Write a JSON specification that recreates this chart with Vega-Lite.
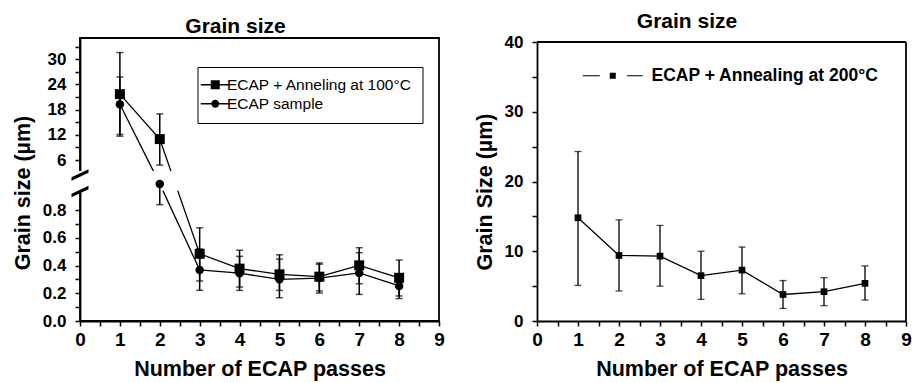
{
  "$schema": "https://vega.github.io/schema/vega-lite/v6.json",
  "padding": {"left": 11, "top": 11, "right": 5, "bottom": 2},
  "spacing": 98,
  "bounds": "flush",
  "resolve": {"scale": {"shape": "independent"}, "legend": {"shape": "independent"}},
  "config": {
    "font": "Liberation Sans",
    "view": {"stroke": "black", "strokeWidth": 1.8},
    "axis": {"grid": false, "domainColor": "black", "domainWidth": 1.8, "tickColor": "black", "tickWidth": 1.5,
      "labelColor": "black", "labelFont": "Liberation Sans", "labelFontWeight": "bold",
      "titleColor": "black", "titleFont": "Liberation Sans", "titleFontWeight": "bold", "titleFontSize": 21.5,
      "labelOverlap": false, "labelFlush": false},
    "axisX": {"labelPadding": 4, "titlePadding": 9},
    "axisY": {"labelPadding": 9, "titlePadding": 8},
    "title": {"font": "Liberation Sans", "fontSize": 21, "fontWeight": "bold", "color": "black"}
  },
  "datasets": {
    "left": [
      {"pass": 1, "series": "ECAP + Anneling at 100°C", "value": 21.7, "lo": 11.7, "hi": 31.6},
      {"pass": 2, "series": "ECAP + Anneling at 100°C", "value": 11.0, "lo": 4.8, "hi": 17.0},
      {"pass": 3, "series": "ECAP + Anneling at 100°C", "value": 0.485, "lo": 0.289, "hi": 0.673},
      {"pass": 4, "series": "ECAP + Anneling at 100°C", "value": 0.378, "lo": 0.245, "hi": 0.511},
      {"pass": 5, "series": "ECAP + Anneling at 100°C", "value": 0.337, "lo": 0.221, "hi": 0.478},
      {"pass": 6, "series": "ECAP + Anneling at 100°C", "value": 0.32, "lo": 0.217, "hi": 0.419},
      {"pass": 7, "series": "ECAP + Anneling at 100°C", "value": 0.402, "lo": 0.269, "hi": 0.529},
      {"pass": 8, "series": "ECAP + Anneling at 100°C", "value": 0.312, "lo": 0.181, "hi": 0.44},
      {"pass": 1, "series": "ECAP sample", "value": 19.3, "lo": 12.1, "hi": 25.8},
      {"pass": 2, "series": "ECAP sample", "value": 0.99, "lo": 0.84, "hi": 0.99},
      {"pass": 3, "series": "ECAP sample", "value": 0.369, "lo": 0.222, "hi": 0.52},
      {"pass": 4, "series": "ECAP sample", "value": 0.345, "lo": 0.221, "hi": 0.467},
      {"pass": 5, "series": "ECAP sample", "value": 0.301, "lo": 0.168, "hi": 0.447},
      {"pass": 6, "series": "ECAP sample", "value": 0.31, "lo": 0.202, "hi": 0.41},
      {"pass": 7, "series": "ECAP sample", "value": 0.347, "lo": 0.192, "hi": 0.493},
      {"pass": 8, "series": "ECAP sample", "value": 0.253, "lo": 0.162, "hi": 0.34}
    ],
    "right": [
      {"pass": 1, "series": "ECAP + Annealing at 200°C", "value": 14.8, "lo": 5.1, "hi": 24.3},
      {"pass": 2, "series": "ECAP + Annealing at 200°C", "value": 9.4, "lo": 4.3, "hi": 14.5},
      {"pass": 3, "series": "ECAP + Annealing at 200°C", "value": 9.3, "lo": 5.0, "hi": 13.7},
      {"pass": 4, "series": "ECAP + Annealing at 200°C", "value": 6.5, "lo": 3.1, "hi": 10.0},
      {"pass": 5, "series": "ECAP + Annealing at 200°C", "value": 7.3, "lo": 3.9, "hi": 10.6},
      {"pass": 6, "series": "ECAP + Annealing at 200°C", "value": 3.8, "lo": 1.8, "hi": 5.8},
      {"pass": 7, "series": "ECAP + Annealing at 200°C", "value": 4.2, "lo": 2.2, "hi": 6.2},
      {"pass": 8, "series": "ECAP + Annealing at 200°C", "value": 5.4, "lo": 3.0, "hi": 7.9}
    ]
  },
  "hconcat": [
    {
      "width": 359, "height": 283,
      "title": {"text": "Grain size", "dx": -24, "offset": 1},
      "data": {"name": "left"},
      "layer": [
        {
          "mark": {"type": "line", "color": "black", "strokeWidth": 1.3},
          "encoding": {
            "x": {"field": "pass", "type": "quantitative",
              "scale": {"domain": [0, 9], "nice": false, "zero": false},
              "axis": {"title": "Number of ECAP passes", "labelOverlap": false, "tickCount": 60,
                "values": [0, 0.5, 1, 1.5, 2, 2.5, 3, 3.5, 4, 4.5, 5, 5.5, 6, 6.5, 7, 7.5, 8, 8.5, 9],
                "labelExpr": "datum.value % 1 === 0 ? format(datum.value, 'd') : ''",
                "labelFontSize": {"condition": {"test": "datum.value % 1 !== 0", "value": 0}, "value": 19},
                "tickSize": 5,
                "encode": {"ticks": {"update": {"y2": {"signal": "datum.value % 1 === 0 ? 5 : -4"}}}}}},
            "y": {"field": "value", "type": "quantitative",
              "scale": {"domain": [0, 1, 3.4, 35.07], "range": [283, 144.5, 133, 0], "nice": false, "zero": false},
              "axis": {"title": "Grain size (µm)", "labelOverlap": false, "tickCount": 60,
                "values": [0, 0.1, 0.2, 0.3, 0.4, 0.5, 0.6, 0.7, 0.8, 6, 9, 12, 15, 18, 21, 24, 27, 30, 33],
                "labelExpr": "indexof([0.1, 0.3, 0.5, 0.7, 9, 15, 21, 27, 33], datum.value) >= 0 ? '' : (datum.value < 1 ? format(datum.value, '.1f') : format(datum.value, 'd'))",
                "labelFontSize": {"condition": {"test": "indexof([0.1, 0.3, 0.5, 0.7, 9, 15, 21, 27, 33], datum.value) >= 0", "value": 0}, "value": 17},
                "tickSize": 5, "titleY": 154.5,
                "encode": {"ticks": {"update": {"x2": {"signal": "indexof([0.1, 0.3, 0.5, 0.7, 9, 15, 21, 27, 33], datum.value) >= 0 ? 3 : -5"}}}}}},
            "detail": {"field": "series"}
          }
        },
        {
          "data": {"values": [{}]},
          "mark": {"type": "rect", "fill": "white"},
          "encoding": {"x": {"datum": -0.06}, "x2": {"datum": 8.96}, "y": {"datum": 0.94}, "y2": {"datum": 3.4}}
        },
        {
          "mark": {"type": "rule", "color": "black", "strokeWidth": 1.5},
          "encoding": {"x": {"field": "pass", "type": "quantitative"}, "y": {"field": "lo", "type": "quantitative"}, "y2": {"field": "hi"}}
        },
        {
          "mark": {"type": "tick", "orient": "horizontal", "color": "black", "size": 7, "thickness": 1.5},
          "encoding": {"x": {"field": "pass", "type": "quantitative"}, "y": {"field": "lo", "type": "quantitative"}}
        },
        {
          "mark": {"type": "tick", "orient": "horizontal", "color": "black", "size": 7, "thickness": 1.5},
          "encoding": {"x": {"field": "pass", "type": "quantitative"}, "y": {"field": "hi", "type": "quantitative"}}
        },
        {
          "transform": [{"filter": "datum.series === 'ECAP + Anneling at 100°C'"}],
          "mark": {"type": "point", "shape": "square", "filled": true, "color": "black", "size": 100, "opacity": 1},
          "encoding": {"x": {"field": "pass", "type": "quantitative"}, "y": {"field": "value", "type": "quantitative"}}
        },
        {
          "transform": [{"filter": "datum.series === 'ECAP sample'"}],
          "mark": {"type": "point", "shape": "circle", "filled": true, "color": "black", "size": 72, "opacity": 1},
          "encoding": {"x": {"field": "pass", "type": "quantitative"}, "y": {"field": "value", "type": "quantitative"}}
        },
        {
          "data": {"values": [{}]},
          "mark": {"type": "point", "shape": "M-1,0.27L1,-0.67L1,-0.27L-1,0.67Z", "filled": true, "color": "black", "size": 289, "opacity": 1},
          "encoding": {"x": {"datum": 0}, "y": {"datum": 2.57}}
        },
        {
          "data": {"values": [{}]},
          "mark": {"type": "point", "shape": "M-1,0.27L1,-0.67L1,-0.27L-1,0.67Z", "filled": true, "color": "black", "size": 289, "opacity": 1},
          "encoding": {"x": {"datum": 0}, "y": {"datum": 0.935}}
        },
        {
          "mark": {"type": "point", "filled": true, "color": "black", "opacity": 0},
          "encoding": {
            "x": {"field": "pass", "type": "quantitative"},
            "y": {"field": "value", "type": "quantitative"},
            "shape": {"field": "series", "type": "nominal",
              "scale": {"domain": ["ECAP + Anneling at 100°C", "ECAP sample"],
                "range": ["M-2.9,-0.13H-0.9V0.13H-2.9ZM0.9,-0.13H2.9V0.13H0.9ZM-0.9,-0.9H0.9V0.9H-0.9Z", "M-2.9,-0.13H-0.8V0.13H-2.9ZM0.8,-0.13H2.9V0.13H0.8ZM0.8,0A0.8,0.8,0,1,1,-0.8,0A0.8,0.8,0,1,1,0.8,0Z"]},
              "legend": {"title": null, "orient": "none", "legendX": 117.5, "legendY": 29, "padding": 10,
                "strokeColor": "black", "fillColor": "white",
                "symbolSize": 100, "symbolOpacity": 1, "symbolFillColor": "black", "symbolStrokeWidth": 0,
                "labelFont": "Liberation Sans", "labelFontSize": 15.5, "labelFontWeight": "normal", "labelColor": "black",
                "labelOffset": 4, "rowPadding": 2, "labelLimit": 400}}
          }
        }
      ]
    },
    {
      "width": 369, "height": 283,
      "view": {"stroke": null},
      "title": {"text": "Grain size", "dx": -34.5, "offset": 1},
      "data": {"name": "right"},
      "layer": [
        {
          "mark": {"type": "line", "color": "black", "strokeWidth": 1.3},
          "encoding": {
            "x": {"field": "pass", "type": "quantitative",
              "scale": {"domain": [0, 9], "nice": false, "zero": false},
              "axis": {"title": "Number of ECAP passes", "labelOverlap": false, "tickCount": 60,
                "values": [0, 0.5, 1, 1.5, 2, 2.5, 3, 3.5, 4, 4.5, 5, 5.5, 6, 6.5, 7, 7.5, 8, 8.5, 9],
                "labelExpr": "datum.value % 1 === 0 ? format(datum.value, 'd') : ''",
                "labelFontSize": {"condition": {"test": "datum.value % 1 !== 0", "value": 0}, "value": 19},
                "tickSize": 5,
                "encode": {"ticks": {"update": {"y2": {"signal": "datum.value % 1 === 0 ? 5 : -4"}}}}}},
            "y": {"field": "value", "type": "quantitative",
              "scale": {"domain": [0, 40], "range": [283, 4], "nice": false, "zero": false},
              "axis": {"title": "Grain Size (µm)", "labelOverlap": false, "tickCount": 60,
                "values": [0, 5, 10, 15, 20, 25, 30, 35, 40],
                "labelExpr": "datum.value % 10 === 0 ? format(datum.value, 'd') : ''",
                "labelFontSize": {"condition": {"test": "datum.value % 10 !== 0", "value": 0}, "value": 17},
                "tickSize": 5, "titleY": 153.5,
                "encode": {"ticks": {"update": {"x2": {"signal": "datum.value % 10 === 0 ? -5 : 3"}}}}}}
          }
        },
        {
          "data": {"values": [{}]},
          "mark": {"type": "rule", "color": "black", "strokeWidth": 1.8},
          "encoding": {"x": {"datum": 0}, "x2": {"datum": 9}, "y": {"datum": 40}}
        },
        {
          "data": {"values": [{}]},
          "mark": {"type": "rule", "color": "black", "strokeWidth": 1.8},
          "encoding": {"x": {"datum": 9}, "y": {"datum": 0}, "y2": {"datum": 40}}
        },
        {
          "mark": {"type": "rule", "color": "black", "strokeWidth": 1.3},
          "encoding": {"x": {"field": "pass", "type": "quantitative"}, "y": {"field": "lo", "type": "quantitative"}, "y2": {"field": "hi"}}
        },
        {
          "mark": {"type": "tick", "orient": "horizontal", "color": "black", "size": 7, "thickness": 1.3},
          "encoding": {"x": {"field": "pass", "type": "quantitative"}, "y": {"field": "lo", "type": "quantitative"}}
        },
        {
          "mark": {"type": "tick", "orient": "horizontal", "color": "black", "size": 7, "thickness": 1.3},
          "encoding": {"x": {"field": "pass", "type": "quantitative"}, "y": {"field": "hi", "type": "quantitative"}}
        },
        {
          "mark": {"type": "point", "shape": "square", "filled": true, "color": "black", "size": 45, "opacity": 1},
          "encoding": {"x": {"field": "pass", "type": "quantitative"}, "y": {"field": "value", "type": "quantitative"}}
        },
        {
          "mark": {"type": "point", "filled": true, "color": "black", "opacity": 0},
          "encoding": {
            "x": {"field": "pass", "type": "quantitative"},
            "y": {"field": "value", "type": "quantitative"},
            "shape": {"field": "series", "type": "nominal",
              "scale": {"domain": ["ECAP + Annealing at 200°C"],
                "range": ["M-10,-0.2H-4.3V0.2H-10ZM4.7,-0.2H10V0.2H4.7ZM-1,-1H1V1H-1Z"]},
              "legend": {"title": null, "orient": "none", "legendX": 67, "legendY": 29, "padding": 0,
                "symbolSize": 36, "symbolOpacity": 1, "symbolFillColor": "black", "symbolStrokeWidth": 0,
                "labelFont": "Liberation Sans", "labelFontSize": 17.5, "labelFontWeight": "bold", "labelColor": "black",
                "labelOffset": 30, "labelLimit": 400}}
          }
        }
      ]
    }
  ]
}
